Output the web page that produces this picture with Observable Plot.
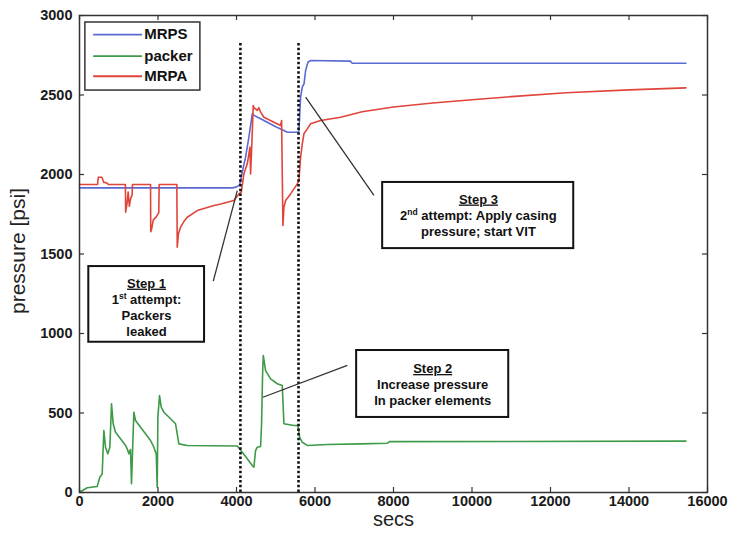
<!DOCTYPE html>
<html>
<head>
<meta charset="utf-8">
<script src="https://cdn.jsdelivr.net/npm/d3@7"></script>
<script src="https://cdn.jsdelivr.net/npm/@observablehq/plot@0.6"></script>
<style>
  html, body { margin: 0; padding: 0; background: #fff; }
  #chart svg { display: block; }
</style>
</head>
<body>
<div id="chart"></div>
<script>
// ---------- data ----------
const xTicks = [0, 2000, 4000, 6000, 8000, 10000, 12000, 14000, 16000];
const yTicks = [0, 500, 1000, 1500, 2000, 2500, 3000];
const seriesNames = ["MRPS", "packer", "MRPA"];
const seriesColors = ["#5a6ad2", "#3e9a48", "#e0443a"];

// [secs, psi]
const mrps = [[0,1916],[3900,1916],[4000,1922],[4080,1935],[4104,1962],[4160,2030],[4231,2109],[4316,2235],
  [4401,2381],[4450,2372],[4698,2340],[5000,2300],[5208,2277],[5294,2266],[5560,2266],[5590,2272],
  [5633,2486],[5676,2549],[5720,2570],[5761,2654],[5820,2706],[5888,2717],[6900,2713],[6950,2700],[15450,2700]];

const packer = [[0,8],[43,8],[196,30],[451,38],[518,96],[578,117],[620,390],[663,285],[722,243],[773,285],
  [816,558],[858,432],[918,379],[1045,338],[1173,296],[1216,275],[1258,243],[1300,270],[1325,55],[1351,250],
  [1385,505],[1427,453],[1555,411],[1682,369],[1810,327],[1894,285],[1955,243],[1980,33],[1997,474],[2039,610],
  [2082,537],[2150,505],[2235,484],[2363,453],[2447,432],[2490,369],[2532,306],[2745,296],[4020,292],[4147,253],
  [4274,212],[4401,170],[4443,159],[4486,264],[4529,285],[4614,289],[4639,432],[4665,746],[4682,862],[4741,767],
  [4869,715],[5039,684],[5166,673],[5208,432],[5463,421],[5565,421],[5608,348],[5676,316],[5804,296],[6312,302],
  [7163,306],[7843,310],[7900,320],[15450,323]];

const mrpa = [[0,1937],[460,1937],[480,1983],[570,1983],[620,1950],[660,1950],[700,1945],[740,1937],
  [1170,1937],[1175,1763],[1210,1815],[1240,1889],[1270,1800],[1300,1847],[1340,1870],[1350,1937],
  [1810,1937],[1815,1640],[1840,1660],[1880,1715],[1960,1735],[2020,1760],[2030,1937],
  [2480,1937],[2490,1543],[2520,1627],[2575,1669],[2660,1704],[2745,1731],[3000,1773],[3424,1805],[3600,1815],
  [3933,1836],[4061,1878],[4122,1889],[4189,2004],[4274,2067],[4316,2130],[4342,2172],[4359,2004],[4384,2151],
  [4427,2434],[4444,2420],[4486,2413],[4529,2403],[4571,2420],[4614,2392],[4698,2360],[4953,2329],[5123,2308],
  [5149,2340],[5183,1679],[5208,1794],[5251,1836],[5378,1878],[5549,1941],[5590,1962],[5633,2109],[5676,2193],
  [5718,2256],[5804,2287],[5888,2319],[6143,2340],[6653,2360],[7200,2395],[8000,2425],[9000,2450],[10000,2470],
  [11000,2490],[12400,2514],[14000,2532],[15450,2545]];

// step markers (secs) and top of the dashed lines (psi)
const stepTimes = [4100, 5580];
const stepTop = 2825;

// annotations: box extents, text centre, leader line (data units)
const annoText = [
  "Step 1\n1st attempt:\nPackers\nleaked",
  "Step 2\nIncrease pressure\nIn packer elements",
  "Step 3\n2nd attempt: Apply casing\npressure; start VIT"
];
const annoBoxX1 = [237, 7061, 7724];
const annoBoxX2 = [3186, 10936, 12592];
const annoBoxY1 = [945, 472, 1534];
const annoBoxY2 = [1421, 893, 1950];
const annoTextX = [1708, 8998, 10163];
const annoTextY = [1168, 682, 1748];
const leadX1 = [3408, 4673, 5761];
const leadY1 = [1329, 599, 2486];
const leadX2 = [4020, 6824, 7502];
const leadY2 = [1899, 799, 1868];

// legend (data units)
const legendBox = {x1: 150, x2: 3080, y1: 2528, y2: 2956};
const legendLineX = [360, 1606];
const legendTextX = 1650;
const legendY = [2880, 2744, 2618];

// ---------- tables ----------
const rows = [];
[[seriesNames[0], mrps], [seriesNames[1], packer], [seriesNames[2], mrpa]].forEach(([name, arr]) =>
  arr.forEach(([t, p]) => rows.push({series: name, t, p})));

const annos = annoText.map((text, i) => ({
  text, x1: annoBoxX1[i], x2: annoBoxX2[i], y1: annoBoxY1[i], y2: annoBoxY2[i],
  tx: annoTextX[i], ty: annoTextY[i],
  lx1: leadX1[i], ly1: leadY1[i], lx2: leadX2[i], ly2: leadY2[i]
}));

const legendRows = seriesNames.map((s, i) => ({series: s, y: legendY[i], x1: legendLineX[0], x2: legendLineX[1], tx: legendTextX}));

// ---------- plot ----------
const W = 730, H = 536, mL = 79, mR = 23, mT = 15, mB = 44;
const innerW = W - mL - mR, innerH = H - mT - mB;

const chart = Plot.plot({
  width: W, height: H,
  marginLeft: mL, marginRight: mR, marginTop: mT, marginBottom: mB,
  style: {background: "#fff", fontFamily: "'Liberation Sans', Arial, sans-serif", color: "#1a1a1a"},
  x: {domain: [0, 16000]},
  y: {domain: [0, 3000]},
  color: {domain: seriesNames, range: seriesColors},
  marks: [
    Plot.axisX({ticks: xTicks, tickSize: 0, tickPadding: 3, fontSize: 14.5, fontWeight: "bold", label: null, tickFormat: d => String(d)}),
    Plot.axisY({ticks: yTicks, tickSize: 0, tickPadding: 7, fontSize: 14.5, fontWeight: "bold", label: null, tickFormat: d => String(d)}),
    Plot.line(rows, {x: "t", y: "p", z: "series", stroke: "series", strokeWidth: 1.6}),
    Plot.ruleX(stepTimes, {x: d => d, y1: 0, y2: stepTop, stroke: "#111", strokeWidth: 2.6, strokeDasharray: "2.5,2.2"}),
    Plot.link(annos, {x1: "lx1", y1: "ly1", x2: "lx2", y2: "ly2", stroke: "#333", strokeWidth: 1.3}),
    Plot.rect(annos, {x1: "x1", x2: "x2", y1: "y1", y2: "y2", fill: "#fff", stroke: "#111", strokeWidth: 2}),
    Plot.text(annos, {x: "tx", y: "ty", text: "text", fontSize: 13, fontWeight: "bold", lineHeight: 1.25, fill: "#111"}),
    Plot.rect([legendBox], {x1: "x1", x2: "x2", y1: "y1", y2: "y2", fill: "#fff", stroke: "#333", strokeWidth: 1.5}),
    Plot.ruleY(legendRows, {y: "y", x1: "x1", x2: "x2", stroke: "series", strokeWidth: 1.8}),
    Plot.text(legendRows, {x: "tx", y: "y", text: "series", textAnchor: "start", fontSize: 15, fontWeight: "bold", fill: "#111"}),
    Plot.tickX(xTicks, {x: d => d, insetTop: innerH - 5, stroke: "#333", strokeWidth: 1.2}),
    Plot.tickX(xTicks, {x: d => d, insetBottom: innerH - 5, stroke: "#333", strokeWidth: 1.2}),
    Plot.tickY(yTicks, {y: d => d, insetRight: innerW - 5, stroke: "#333", strokeWidth: 1.2}),
    Plot.tickY(yTicks, {y: d => d, insetLeft: innerW - 5, stroke: "#333", strokeWidth: 1.2}),
    Plot.frame({stroke: "#333", strokeWidth: 1.5}),
    Plot.text(["pressure [psi]"], {frameAnchor: "left", textAnchor: "middle", dx: -61, dy: -3, rotate: -90, fontSize: 21, fill: "#222"}),
    Plot.text(["secs"], {frameAnchor: "bottom", dy: 33, fontSize: 20, fill: "#222"})
  ]
});

document.getElementById("chart").appendChild(chart);

// underline the "Step n" titles and raise ordinal suffixes
d3.select(chart).selectAll("text").each(function() {
  const tspans = d3.select(this).selectAll(":scope > tspan");
  if (tspans.empty()) return;
  if (!/^Step/.test(tspans.nodes()[0].textContent)) return;
  tspans.each(function(d, i) {
    const ts = d3.select(this);
    if (i === 0) ts.style("text-decoration", "underline");
    const m = /^(\d)(st|nd)(.*)$/.exec(ts.text());
    if (m) {
      ts.text("");
      ts.append("tspan").text(m[1]);
      ts.append("tspan").attr("dy", -5).attr("font-size", 8.5).text(m[2]);
      ts.append("tspan").attr("dy", 5).text(m[3]);
    }
  });
});
</script>
</body>
</html>
